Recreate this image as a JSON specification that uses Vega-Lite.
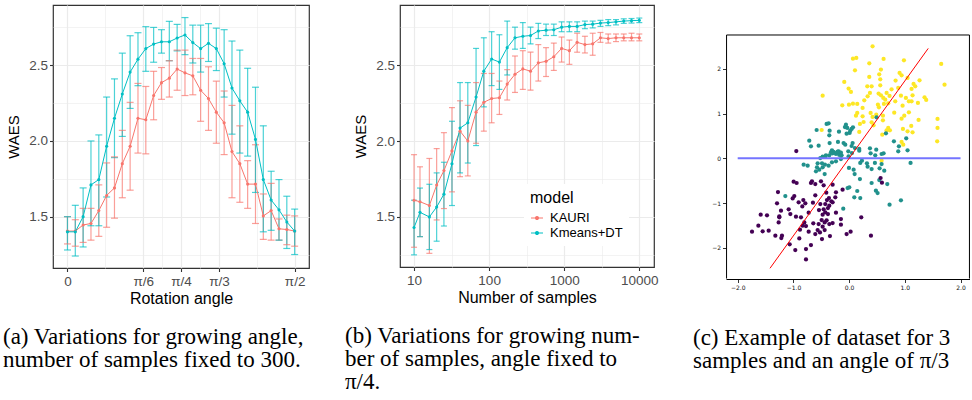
{
  "$schema": "https://vega.github.io/schema/vega-lite/v6.json",
  "background": "white",
  "padding": {"left": 2, "top": 4, "right": 0, "bottom": 0},
  "spacing": 34,
  "resolve": {"scale": {"color": "independent"}, "legend": {"color": "independent"}},
  "config": {
    "font": "Liberation Sans",
    "view": {"stroke": "#333333", "strokeWidth": 1.2},
    "axis": {
      "domain": false,
      "labelFont": "Liberation Sans", "labelFontSize": 13.5, "labelColor": "#4d4d4d", "labelPadding": 2,
      "labelOverlap": false,
      "titleFont": "Liberation Sans", "titleFontSize": 16, "titleFontWeight": "normal", "titleColor": "black",
      "tickColor": "#333333", "tickWidth": 1.1, "tickSize": 3.5,
      "gridColor": "#ebebeb"
    },
    "axisX": {"titlePadding": 2, "labelPadding": 3},
    "axisY": {"titlePadding": 7, "titleFontSize": 15}
  },
  "datasets": {
    "angle": [
      {"a":0,"m":"KAURI","w":1.405,"lo":1.32,"hi":1.5},
      {"a":0.0542,"m":"KAURI","w":1.405,"lo":1.305,"hi":1.48},
      {"a":0.1083,"m":"KAURI","w":1.445,"lo":1.33,"hi":1.555},
      {"a":0.1625,"m":"KAURI","w":1.455,"lo":1.345,"hi":1.555},
      {"a":0.2167,"m":"KAURI","w":1.54,"lo":1.37,"hi":1.71},
      {"a":0.2708,"m":"KAURI","w":1.64,"lo":1.43,"hi":1.855},
      {"a":0.325,"m":"KAURI","w":1.69,"lo":1.49,"hi":1.895},
      {"a":0.3792,"m":"KAURI","w":1.85,"lo":1.625,"hi":2.07},
      {"a":0.4333,"m":"KAURI","w":1.965,"lo":1.675,"hi":2.255},
      {"a":0.4875,"m":"KAURI","w":2.15,"lo":1.92,"hi":2.38},
      {"a":0.5417,"m":"KAURI","w":2.14,"lo":1.915,"hi":2.36},
      {"a":0.5958,"m":"KAURI","w":2.3,"lo":2.14,"hi":2.46},
      {"a":0.65,"m":"KAURI","w":2.385,"lo":2.275,"hi":2.485},
      {"a":0.7042,"m":"KAURI","w":2.415,"lo":2.29,"hi":2.53},
      {"a":0.7583,"m":"KAURI","w":2.475,"lo":2.335,"hi":2.6},
      {"a":0.8125,"m":"KAURI","w":2.45,"lo":2.3,"hi":2.6},
      {"a":0.8666,"m":"KAURI","w":2.43,"lo":2.305,"hi":2.545},
      {"a":0.9208,"m":"KAURI","w":2.335,"lo":2.13,"hi":2.545},
      {"a":0.975,"m":"KAURI","w":2.28,"lo":2.07,"hi":2.49},
      {"a":1.0292,"m":"KAURI","w":2.19,"lo":1.985,"hi":2.395},
      {"a":1.0833,"m":"KAURI","w":2.12,"lo":1.91,"hi":2.33},
      {"a":1.1375,"m":"KAURI","w":1.93,"lo":1.625,"hi":2.235},
      {"a":1.1917,"m":"KAURI","w":1.85,"lo":1.595,"hi":2.1},
      {"a":1.2458,"m":"KAURI","w":1.715,"lo":1.555,"hi":1.87},
      {"a":1.3,"m":"KAURI","w":1.715,"lo":1.455,"hi":1.975},
      {"a":1.3541,"m":"KAURI","w":1.505,"lo":1.35,"hi":1.65},
      {"a":1.4083,"m":"KAURI","w":1.54,"lo":1.345,"hi":1.72},
      {"a":1.4625,"m":"KAURI","w":1.42,"lo":1.345,"hi":1.485},
      {"a":1.5166,"m":"KAURI","w":1.415,"lo":1.315,"hi":1.51},
      {"a":1.5708,"m":"KAURI","w":1.405,"lo":1.305,"hi":1.505},
      {"a":0,"m":"Kmeans+DT","w":1.4,"lo":1.28,"hi":1.5},
      {"a":0.0542,"m":"Kmeans+DT","w":1.4,"lo":1.24,"hi":1.575},
      {"a":0.1083,"m":"Kmeans+DT","w":1.5,"lo":1.3,"hi":1.69},
      {"a":0.1625,"m":"Kmeans+DT","w":1.71,"lo":1.44,"hi":2.0},
      {"a":0.2167,"m":"Kmeans+DT","w":1.745,"lo":1.44,"hi":2.04},
      {"a":0.2708,"m":"Kmeans+DT","w":1.965,"lo":1.63,"hi":2.29},
      {"a":0.325,"m":"Kmeans+DT","w":2.15,"lo":1.89,"hi":2.41},
      {"a":0.3792,"m":"Kmeans+DT","w":2.31,"lo":2.03,"hi":2.58},
      {"a":0.4333,"m":"Kmeans+DT","w":2.455,"lo":2.215,"hi":2.695},
      {"a":0.4875,"m":"Kmeans+DT","w":2.54,"lo":2.365,"hi":2.715},
      {"a":0.5417,"m":"Kmeans+DT","w":2.61,"lo":2.46,"hi":2.755},
      {"a":0.5958,"m":"Kmeans+DT","w":2.64,"lo":2.52,"hi":2.75},
      {"a":0.65,"m":"Kmeans+DT","w":2.655,"lo":2.58,"hi":2.735},
      {"a":0.7042,"m":"Kmeans+DT","w":2.655,"lo":2.53,"hi":2.79},
      {"a":0.7583,"m":"Kmeans+DT","w":2.68,"lo":2.595,"hi":2.77},
      {"a":0.8125,"m":"Kmeans+DT","w":2.7,"lo":2.57,"hi":2.815},
      {"a":0.8666,"m":"Kmeans+DT","w":2.65,"lo":2.515,"hi":2.765},
      {"a":0.9208,"m":"Kmeans+DT","w":2.61,"lo":2.455,"hi":2.765},
      {"a":0.975,"m":"Kmeans+DT","w":2.645,"lo":2.525,"hi":2.775},
      {"a":1.0292,"m":"Kmeans+DT","w":2.61,"lo":2.465,"hi":2.745},
      {"a":1.0833,"m":"Kmeans+DT","w":2.51,"lo":2.29,"hi":2.735},
      {"a":1.1375,"m":"Kmeans+DT","w":2.35,"lo":2.045,"hi":2.66},
      {"a":1.1917,"m":"Kmeans+DT","w":2.265,"lo":1.92,"hi":2.6},
      {"a":1.2458,"m":"Kmeans+DT","w":2.19,"lo":1.9,"hi":2.48},
      {"a":1.3,"m":"Kmeans+DT","w":2.01,"lo":1.66,"hi":2.355},
      {"a":1.3541,"m":"Kmeans+DT","w":1.745,"lo":1.4,"hi":2.1},
      {"a":1.4083,"m":"Kmeans+DT","w":1.61,"lo":1.41,"hi":1.8},
      {"a":1.4625,"m":"Kmeans+DT","w":1.545,"lo":1.345,"hi":1.745},
      {"a":1.5166,"m":"Kmeans+DT","w":1.465,"lo":1.29,"hi":1.635},
      {"a":1.5708,"m":"Kmeans+DT","w":1.405,"lo":1.25,"hi":1.55}
    ],
    "samples": [
      {"n":10,"m":"KAURI","w":1.61,"lo":1.3,"hi":1.91},
      {"n":12,"m":"KAURI","w":1.6,"lo":1.37,"hi":1.83},
      {"n":16,"m":"KAURI","w":1.575,"lo":1.26,"hi":1.885},
      {"n":20,"m":"KAURI","w":1.71,"lo":1.48,"hi":1.95},
      {"n":25,"m":"KAURI","w":1.805,"lo":1.555,"hi":2.055},
      {"n":32,"m":"KAURI","w":1.935,"lo":1.665,"hi":2.22},
      {"n":41,"m":"KAURI","w":2.065,"lo":1.765,"hi":2.265},
      {"n":52,"m":"KAURI","w":2.0,"lo":1.77,"hi":2.235},
      {"n":67,"m":"KAURI","w":2.19,"lo":1.985,"hi":2.385},
      {"n":85,"m":"KAURI","w":2.255,"lo":2.065,"hi":2.445},
      {"n":108,"m":"KAURI","w":2.28,"lo":2.12,"hi":2.445},
      {"n":137,"m":"KAURI","w":2.285,"lo":2.175,"hi":2.395},
      {"n":174,"m":"KAURI","w":2.375,"lo":2.27,"hi":2.47},
      {"n":221,"m":"KAURI","w":2.44,"lo":2.32,"hi":2.56},
      {"n":281,"m":"KAURI","w":2.475,"lo":2.34,"hi":2.595},
      {"n":356,"m":"KAURI","w":2.46,"lo":2.335,"hi":2.585},
      {"n":452,"m":"KAURI","w":2.515,"lo":2.395,"hi":2.635},
      {"n":573,"m":"KAURI","w":2.525,"lo":2.425,"hi":2.615},
      {"n":727,"m":"KAURI","w":2.555,"lo":2.465,"hi":2.645},
      {"n":923,"m":"KAURI","w":2.61,"lo":2.52,"hi":2.685},
      {"n":1172,"m":"KAURI","w":2.595,"lo":2.505,"hi":2.665},
      {"n":1487,"m":"KAURI","w":2.65,"lo":2.585,"hi":2.71},
      {"n":1887,"m":"KAURI","w":2.635,"lo":2.58,"hi":2.69},
      {"n":2395,"m":"KAURI","w":2.64,"lo":2.565,"hi":2.71},
      {"n":3039,"m":"KAURI","w":2.68,"lo":2.65,"hi":2.715},
      {"n":3856,"m":"KAURI","w":2.675,"lo":2.645,"hi":2.705},
      {"n":4893,"m":"KAURI","w":2.68,"lo":2.655,"hi":2.705},
      {"n":6210,"m":"KAURI","w":2.68,"lo":2.66,"hi":2.705},
      {"n":7880,"m":"KAURI","w":2.68,"lo":2.66,"hi":2.71},
      {"n":10000,"m":"KAURI","w":2.68,"lo":2.66,"hi":2.705},
      {"n":10,"m":"Kmeans+DT","w":1.43,"lo":1.25,"hi":1.61},
      {"n":12,"m":"Kmeans+DT","w":1.53,"lo":1.37,"hi":1.69},
      {"n":16,"m":"Kmeans+DT","w":1.5,"lo":1.285,"hi":1.715},
      {"n":20,"m":"Kmeans+DT","w":1.565,"lo":1.34,"hi":1.79},
      {"n":25,"m":"Kmeans+DT","w":1.65,"lo":1.44,"hi":1.86},
      {"n":32,"m":"Kmeans+DT","w":1.85,"lo":1.575,"hi":2.13},
      {"n":41,"m":"Kmeans+DT","w":2.085,"lo":1.79,"hi":2.385},
      {"n":52,"m":"Kmeans+DT","w":2.12,"lo":1.855,"hi":2.385},
      {"n":67,"m":"Kmeans+DT","w":2.29,"lo":1.97,"hi":2.61},
      {"n":85,"m":"Kmeans+DT","w":2.46,"lo":2.225,"hi":2.68},
      {"n":108,"m":"Kmeans+DT","w":2.54,"lo":2.365,"hi":2.72},
      {"n":137,"m":"Kmeans+DT","w":2.52,"lo":2.34,"hi":2.7},
      {"n":174,"m":"Kmeans+DT","w":2.615,"lo":2.435,"hi":2.79},
      {"n":221,"m":"Kmeans+DT","w":2.68,"lo":2.605,"hi":2.75},
      {"n":281,"m":"Kmeans+DT","w":2.69,"lo":2.61,"hi":2.78},
      {"n":356,"m":"Kmeans+DT","w":2.695,"lo":2.64,"hi":2.75},
      {"n":452,"m":"Kmeans+DT","w":2.725,"lo":2.675,"hi":2.775},
      {"n":573,"m":"Kmeans+DT","w":2.73,"lo":2.695,"hi":2.77},
      {"n":727,"m":"Kmeans+DT","w":2.733,"lo":2.695,"hi":2.77},
      {"n":923,"m":"Kmeans+DT","w":2.75,"lo":2.72,"hi":2.785},
      {"n":1172,"m":"Kmeans+DT","w":2.755,"lo":2.72,"hi":2.785},
      {"n":1487,"m":"Kmeans+DT","w":2.755,"lo":2.72,"hi":2.785},
      {"n":1887,"m":"Kmeans+DT","w":2.767,"lo":2.74,"hi":2.79},
      {"n":2395,"m":"Kmeans+DT","w":2.77,"lo":2.745,"hi":2.79},
      {"n":3039,"m":"Kmeans+DT","w":2.777,"lo":2.755,"hi":2.795},
      {"n":3856,"m":"Kmeans+DT","w":2.78,"lo":2.76,"hi":2.8},
      {"n":4893,"m":"Kmeans+DT","w":2.785,"lo":2.765,"hi":2.8},
      {"n":6210,"m":"Kmeans+DT","w":2.79,"lo":2.775,"hi":2.805},
      {"n":7880,"m":"Kmeans+DT","w":2.793,"lo":2.777,"hi":2.807},
      {"n":10000,"m":"Kmeans+DT","w":2.795,"lo":2.78,"hi":2.81}
    ],
    "scatter": [
      {"x":0.421,"y":2.507,"c":2},{"x":0.069,"y":2.231,"c":2},{"x":0.129,"y":2.246,"c":2},{"x":0.619,"y":2.224,"c":2},{"x":0.984,"y":2.194,"c":2},{"x":1.653,"y":2.112,"c":2},{"x":0.362,"y":2.127,"c":2},{"x":0.105,"y":1.97,"c":2},{"x":0.571,"y":1.985,"c":2},{"x":0.541,"y":1.881,"c":2},{"x":0.906,"y":1.91,"c":2},{"x":0.942,"y":1.858,"c":2},{"x":0.362,"y":1.821,"c":2},{"x":1.049,"y":1.799,"c":2},{"x":-0.087,"y":1.709,"c":2},{"x":0.834,"y":1.739,"c":2},{"x":1.264,"y":1.746,"c":2},{"x":0.559,"y":1.769,"c":2},{"x":0.326,"y":1.612,"c":2},{"x":0.404,"y":1.612,"c":2},{"x":0.559,"y":1.634,"c":2},{"x":1.713,"y":1.649,"c":2},{"x":1.157,"y":1.664,"c":2},{"x":1.187,"y":1.612,"c":2},{"x":0.882,"y":1.575,"c":2},{"x":0.762,"y":1.545,"c":2},{"x":-0.009,"y":1.56,"c":2},{"x":0.033,"y":1.485,"c":2},{"x":1.121,"y":1.552,"c":2},{"x":-0.475,"y":1.403,"c":2},{"x":0.374,"y":1.463,"c":2},{"x":0.332,"y":1.388,"c":2},{"x":0.529,"y":1.448,"c":2},{"x":0.571,"y":1.41,"c":2},{"x":0.673,"y":1.463,"c":2},{"x":0.613,"y":1.351,"c":2},{"x":0.649,"y":1.313,"c":2},{"x":0.726,"y":1.396,"c":2},{"x":0.93,"y":1.403,"c":2},{"x":1.019,"y":1.351,"c":2},{"x":1.139,"y":1.41,"c":2},{"x":1.354,"y":1.366,"c":2},{"x":1.384,"y":1.306,"c":2},{"x":1.073,"y":1.276,"c":2},{"x":1.121,"y":1.276,"c":2},{"x":1.235,"y":1.239,"c":2},{"x":0.272,"y":1.299,"c":2},{"x":-0.123,"y":1.187,"c":2},{"x":-0.003,"y":1.201,"c":2},{"x":0.069,"y":1.224,"c":2},{"x":0.146,"y":1.216,"c":2},{"x":0.517,"y":1.201,"c":2},{"x":0.535,"y":1.142,"c":2},{"x":0.625,"y":1.216,"c":2},{"x":0.702,"y":1.231,"c":2},{"x":0.828,"y":1.276,"c":2},{"x":0.96,"y":1.179,"c":2},{"x":0.242,"y":1.127,"c":2},{"x":0.146,"y":1.015,"c":2},{"x":0.123,"y":0.955,"c":2},{"x":0.386,"y":1.015,"c":2},{"x":0.487,"y":0.978,"c":2},{"x":0.607,"y":0.955,"c":2},{"x":0.81,"y":1.022,"c":2},{"x":0.99,"y":0.955,"c":2},{"x":0.942,"y":0.888,"c":2},{"x":1.073,"y":1.03,"c":2},{"x":0.242,"y":0.94,"c":2},{"x":0.421,"y":0.925,"c":2},{"x":0.607,"y":0.851,"c":2},{"x":1.247,"y":0.858,"c":2},{"x":1.587,"y":0.881,"c":2},{"x":0.26,"y":0.813,"c":2},{"x":0.194,"y":0.769,"c":2},{"x":0.404,"y":0.806,"c":2},{"x":0.439,"y":0.739,"c":2},{"x":1.115,"y":0.724,"c":2},{"x":1.587,"y":0.679,"c":2},{"x":0.702,"y":0.679,"c":2},{"x":0.732,"y":0.627,"c":2},{"x":0.673,"y":0.627,"c":2},{"x":0.966,"y":0.657,"c":2},{"x":1.049,"y":0.604,"c":2},{"x":1.139,"y":0.582,"c":2},{"x":0.182,"y":0.59,"c":2},{"x":-0.493,"y":0.634,"c":2},{"x":0.595,"y":0.53,"c":2},{"x":1.581,"y":0.381,"c":2},{"x":0.942,"y":0.366,"c":2},{"x":0.972,"y":0.306,"c":2},{"x":0.583,"y":-0.052,"c":2},
      {"x":-0.404,"y":0.769,"c":1},{"x":-0.368,"y":0.784,"c":1},{"x":-0.583,"y":0.634,"c":1},{"x":-0.35,"y":0.619,"c":1},{"x":-0.182,"y":0.597,"c":1},{"x":-0.057,"y":0.754,"c":1},{"x":-0.075,"y":0.701,"c":1},{"x":-0.033,"y":0.679,"c":1},{"x":0.045,"y":0.657,"c":1},{"x":0.069,"y":0.694,"c":1},{"x":0.009,"y":0.567,"c":1},{"x":-0.045,"y":0.552,"c":1},{"x":0.021,"y":0.619,"c":1},{"x":-0.356,"y":0.515,"c":1},{"x":-0.715,"y":0.396,"c":1},{"x":-0.685,"y":0.269,"c":1},{"x":-0.547,"y":0.284,"c":1},{"x":-0.35,"y":0.343,"c":1},{"x":-0.2,"y":0.366,"c":1},{"x":-0.099,"y":0.343,"c":1},{"x":0.063,"y":0.343,"c":1},{"x":-0.069,"y":0.306,"c":1},{"x":0.045,"y":0.276,"c":1},{"x":0.105,"y":0.231,"c":1},{"x":0.182,"y":0.209,"c":1},{"x":0.374,"y":0.224,"c":1},{"x":0.487,"y":0.194,"c":1},{"x":0.386,"y":0.112,"c":1},{"x":0.619,"y":0.112,"c":1},{"x":0.493,"y":0.918,"c":1},{"x":0.661,"y":0.56,"c":1},{"x":0.804,"y":0.381,"c":1},{"x":0.894,"y":0.269,"c":1},{"x":0.882,"y":0.157,"c":1},{"x":1.049,"y":0.179,"c":1},{"x":1.025,"y":0.448,"c":1},{"x":-0.015,"y":0.157,"c":1},{"x":0.051,"y":0.119,"c":1},{"x":-0.308,"y":0.179,"c":1},{"x":-0.278,"y":0.142,"c":1},{"x":-0.236,"y":0.119,"c":1},{"x":-0.188,"y":0.157,"c":1},{"x":-0.17,"y":0.097,"c":1},{"x":-0.416,"y":0.067,"c":1},{"x":-0.475,"y":0.037,"c":1},{"x":-0.356,"y":0.067,"c":1},{"x":-0.135,"y":0.067,"c":1},{"x":-0.009,"y":0.045,"c":1},{"x":-0.428,"y":0.037,"c":1},{"x":-0.326,"y":0.134,"c":1},{"x":-0.296,"y":0.112,"c":1},{"x":-0.236,"y":0.097,"c":1},{"x":-0.176,"y":0.075,"c":1},{"x":-0.147,"y":0.127,"c":1},{"x":-0.206,"y":0.149,"c":1},{"x":-0.517,"y":0.007,"c":1},{"x":-0.565,"y":-0.112,"c":1},{"x":-0.487,"y":-0.112,"c":1},{"x":-0.434,"y":-0.142,"c":1},{"x":-0.368,"y":-0.164,"c":1},{"x":-0.308,"y":-0.09,"c":1},{"x":-0.236,"y":-0.067,"c":1},{"x":-0.147,"y":-0.015,"c":1},{"x":-0.816,"y":-0.142,"c":1},{"x":-0.744,"y":-0.164,"c":1},{"x":-0.577,"y":-0.201,"c":1},{"x":-0.535,"y":-0.254,"c":1},{"x":-0.475,"y":-0.201,"c":1},{"x":-0.595,"y":-0.291,"c":1},{"x":-0.439,"y":-0.351,"c":1},{"x":-0.003,"y":-0.216,"c":1},{"x":0.081,"y":-0.254,"c":1},{"x":0.2,"y":-0.104,"c":1},{"x":0.23,"y":-0.052,"c":1},{"x":0.32,"y":-0.112,"c":1},{"x":0.332,"y":-0.187,"c":1},{"x":0.469,"y":0.067,"c":1},{"x":0.583,"y":-0.127,"c":1},{"x":0.631,"y":-0.276,"c":1},{"x":0.463,"y":-0.104,"c":1},{"x":0.547,"y":-0.224,"c":1},{"x":0.404,"y":-0.239,"c":1},{"x":0.099,"y":-0.351,"c":1},{"x":0.194,"y":-0.463,"c":1},{"x":0.404,"y":-0.552,"c":1},{"x":0.541,"y":-0.485,"c":1},{"x":0.685,"y":-0.575,"c":1},{"x":-0.027,"y":-0.664,"c":1},{"x":0.003,"y":-0.649,"c":1},{"x":0.146,"y":-0.731,"c":1},{"x":0.093,"y":-0.873,"c":1},{"x":0.2,"y":-0.888,"c":1},{"x":0.481,"y":-0.724,"c":1},{"x":0.511,"y":-0.776,"c":1},{"x":0.726,"y":-1.037,"c":1},{"x":0.93,"y":-0.94,"c":1},{"x":1.103,"y":-0.104,"c":1},{"x":-1.145,"y":-0.843,"c":1},{"x":-0.105,"y":-1.127,"c":1},{"x":0.182,"y":0.172,"c":1},{"x":0.583,"y":0.097,"c":1},
      {"x":-0.948,"y":0.164,"c":0},{"x":-0.996,"y":-0.522,"c":0},{"x":-0.942,"y":-0.552,"c":0},{"x":-0.685,"y":-0.552,"c":0},{"x":-0.607,"y":-0.575,"c":0},{"x":-0.505,"y":-0.515,"c":0},{"x":-0.457,"y":-0.604,"c":0},{"x":-0.296,"y":-0.59,"c":0},{"x":-0.41,"y":-0.769,"c":0},{"x":-0.236,"y":-0.761,"c":0},{"x":-0.117,"y":-0.701,"c":0},{"x":-1.277,"y":-0.754,"c":0},{"x":-0.984,"y":-0.843,"c":0},{"x":-1.013,"y":-0.896,"c":0},{"x":-0.822,"y":-0.933,"c":0},{"x":-0.786,"y":-1.007,"c":0},{"x":-0.906,"y":-0.985,"c":0},{"x":-0.607,"y":-0.828,"c":0},{"x":-0.649,"y":-0.993,"c":0},{"x":-0.517,"y":-1.022,"c":0},{"x":-0.398,"y":-0.933,"c":0},{"x":-0.362,"y":-0.888,"c":0},{"x":-0.32,"y":-0.963,"c":0},{"x":-0.356,"y":-1.06,"c":0},{"x":-0.296,"y":-0.985,"c":0},{"x":-0.248,"y":-0.873,"c":0},{"x":-0.236,"y":-1.216,"c":0},{"x":-1.294,"y":-1.007,"c":0},{"x":-1.223,"y":-1.172,"c":0},{"x":-1.253,"y":-1.299,"c":0},{"x":-1.085,"y":-1.142,"c":0},{"x":-1.055,"y":-1.246,"c":0},{"x":-0.954,"y":-1.306,"c":0},{"x":-0.84,"y":-1.075,"c":0},{"x":-0.726,"y":-1.216,"c":0},{"x":-0.541,"y":-1.157,"c":0},{"x":-0.457,"y":-1.142,"c":0},{"x":-0.428,"y":-1.209,"c":0},{"x":-0.475,"y":-1.261,"c":0},{"x":-0.38,"y":-1.246,"c":0},{"x":-0.404,"y":-1.388,"c":0},{"x":-0.493,"y":-1.381,"c":0},{"x":-0.547,"y":-1.47,"c":0},{"x":-0.439,"y":-1.433,"c":0},{"x":-1.587,"y":-1.261,"c":0},{"x":-1.474,"y":-1.276,"c":0},{"x":-1.265,"y":-1.433,"c":0},{"x":-1.253,"y":-1.321,"c":0},{"x":-0.804,"y":-1.433,"c":0},{"x":-0.774,"y":-1.515,"c":0},{"x":-0.834,"y":-1.507,"c":0},{"x":-0.643,"y":-1.455,"c":0},{"x":-0.565,"y":-1.604,"c":0},{"x":-0.523,"y":-1.657,"c":0},{"x":-0.475,"y":-1.53,"c":0},{"x":-0.439,"y":-1.604,"c":0},{"x":-0.356,"y":-1.47,"c":0},{"x":-0.296,"y":-1.448,"c":0},{"x":-0.147,"y":-1.358,"c":0},{"x":-0.147,"y":-1.485,"c":0},{"x":0.218,"y":-1.321,"c":0},{"x":-1.629,"y":-1.507,"c":0},{"x":-1.743,"y":-1.642,"c":0},{"x":-1.552,"y":-1.634,"c":0},{"x":-1.444,"y":-1.619,"c":0},{"x":-1.324,"y":-1.731,"c":0},{"x":-1.205,"y":-1.731,"c":0},{"x":-1.217,"y":-1.784,"c":0},{"x":-1.067,"y":-1.925,"c":0},{"x":-0.882,"y":-1.597,"c":0},{"x":-0.726,"y":-1.642,"c":0},{"x":-0.607,"y":-1.694,"c":0},{"x":-0.487,"y":-1.806,"c":0},{"x":-0.344,"y":-1.739,"c":0},{"x":-0.045,"y":-1.694,"c":0},{"x":0.027,"y":-1.642,"c":0},{"x":0.392,"y":-1.731,"c":0},{"x":-0.966,"y":-2.052,"c":0},{"x":-0.774,"y":-2.03,"c":0},{"x":-0.685,"y":-1.94,"c":0},{"x":-0.774,"y":-2.261,"c":0},{"x":-0.894,"y":-1.791,"c":0},{"x":0.565,"y":-0.44,"c":0},{"x":0.589,"y":-0.545,"c":0},{"x":-0.667,"y":-0.515,"c":0},{"x":-0.864,"y":-1.321,"c":0},{"x":-0.428,"y":-1.022,"c":0},{"x":-0.38,"y":-1.112,"c":0}
    ]
  },
  "hconcat": [
    {
      "width": 256,
      "height": 263,
      "data": {"name": "angle"},
      "title": {
        "text": ["(a) Variations for growing angle,", "number of samples fixed to 300."],
        "orient": "bottom", "anchor": "start", "frame": "group", "align": "left", "baseline": "top",
        "dx": -50, "offset": 20,
        "font": "Liberation Serif", "fontSize": 23, "fontWeight": "normal", "color": "black", "lineHeight": 23
      },
      "encoding": {
        "x": {
          "field": "a", "type": "quantitative",
          "scale": {"domain": [-0.1, 1.67], "nice": false, "zero": false},
          "axis": {
            "title": "Rotation angle",
            "values": [0, 0.2618, 0.5236, 0.6545, 0.7854, 0.9163, 1.0472, 1.309, 1.5708],
            "labelExpr": "abs(datum.value)<0.01 ? '0' : abs(datum.value-0.5236)<0.01 ? 'π/6' : abs(datum.value-0.7854)<0.01 ? 'π/4' : abs(datum.value-1.0472)<0.01 ? 'π/3' : abs(datum.value-1.5708)<0.01 ? 'π/2' : ''",
            "tickOpacity": {"condition": {"test": "abs(datum.value-0.2618)<0.01 || abs(datum.value-0.6545)<0.01 || abs(datum.value-0.9163)<0.01 || abs(datum.value-1.309)<0.01", "value": 0}, "value": 1},
            "gridWidth": {"condition": {"test": "abs(datum.value-0.2618)<0.01 || abs(datum.value-0.6545)<0.01 || abs(datum.value-0.9163)<0.01 || abs(datum.value-1.309)<0.01", "value": 0.6}, "value": 1.2}
          }
        },
        "color": {
          "field": "m", "type": "nominal",
          "scale": {"domain": ["KAURI", "Kmeans+DT"], "range": ["#F8766D", "#00BFC4"]},
          "legend": null
        }
      },
      "layer": [
        {
          "mark": {"type": "rule", "strokeWidth": 1.2, "opacity": 0.7},
          "encoding": {
            "y": {
              "field": "lo", "type": "quantitative", "title": "WAES",
              "scale": {"domain": [1.161, 2.898], "nice": false, "zero": false},
              "axis": {
                "values": [1.25, 1.5, 1.75, 2, 2.25, 2.5, 2.75],
                "labelExpr": "datum.value*4%2==1 ? '' : format(datum.value, '.1f')",
                "tickOpacity": {"condition": {"test": "datum.value*4%2==1", "value": 0}, "value": 1},
                "gridWidth": {"condition": {"test": "datum.value*4%2==1", "value": 0.6}, "value": 1.2}
              }
            },
            "y2": {"field": "hi"}
          }
        },
        {
          "mark": {"type": "tick", "orient": "horizontal", "size": 7, "thickness": 1.2, "opacity": 0.7},
          "encoding": {"y": {"field": "lo", "type": "quantitative", "title": "WAES"}}
        },
        {
          "mark": {"type": "tick", "orient": "horizontal", "size": 7, "thickness": 1.2, "opacity": 0.7},
          "encoding": {"y": {"field": "hi", "type": "quantitative", "title": "WAES"}}
        },
        {
          "mark": {"type": "line", "strokeWidth": 1},
          "encoding": {"y": {"field": "w", "type": "quantitative", "title": "WAES"}}
        },
        {
          "mark": {"type": "point", "filled": true, "size": 10, "opacity": 1},
          "encoding": {"y": {"field": "w", "type": "quantitative", "title": "WAES"}}
        }
      ]
    },
    {
      "width": 254,
      "height": 262,
      "data": {"name": "samples"},
      "title": {
        "text": ["(b) Variations for growing num-", "ber of samples, angle fixed to", "π/4."],
        "orient": "bottom", "anchor": "start", "frame": "group", "align": "left", "baseline": "top",
        "dx": -55, "offset": 20,
        "font": "Liberation Serif", "fontSize": 23, "fontWeight": "normal", "color": "black", "lineHeight": 23
      },
      "encoding": {
        "x": {
          "field": "n", "type": "quantitative",
          "scale": {"type": "log", "domain": [6.5, 15700], "nice": false},
          "axis": {
            "title": "Number of samples",
            "values": [10, 31.62, 100, 316.2, 1000, 3162, 10000],
            "labelExpr": "(datum.value==31.62 || datum.value==316.2 || datum.value==3162) ? '' : format(datum.value, 'd')",
            "tickOpacity": {"condition": {"test": "datum.value==31.62 || datum.value==316.2 || datum.value==3162", "value": 0}, "value": 1},
            "gridWidth": {"condition": {"test": "datum.value==31.62 || datum.value==316.2 || datum.value==3162", "value": 0.6}, "value": 1.2}
          }
        },
        "color": {
          "field": "m", "type": "nominal",
          "scale": {"domain": ["KAURI", "Kmeans+DT"], "range": ["#F8766D", "#00BFC4"]},
          "legend": {
            "orient": "none", "legendX": 124, "legendY": 179,
            "fillColor": "white", "padding": 6,
            "title": "model", "titleFont": "Liberation Sans", "titleFontSize": 16, "titleFontWeight": "normal", "titleColor": "black", "titlePadding": 5,
            "labelFont": "Liberation Sans", "labelFontSize": 13, "labelColor": "black", "labelOffset": 6,
            "symbolType": "M-1,0H1M-0.25,0A0.25,0.25,0,1,1,0.25,0A0.25,0.25,0,1,1,-0.25,0Z",
            "symbolSize": 144, "symbolStrokeWidth": 1.1, "rowPadding": 1,
            "encode": {
              "symbols": {
                "update": {
                  "stroke": {"signal": "datum.value === 'KAURI' ? '#F8766D' : '#00BFC4'"},
                  "fill": {"signal": "datum.value === 'KAURI' ? '#F8766D' : '#00BFC4'"},
                  "opacity": {"value": 1}
                }
              }
            }
          }
        }
      },
      "layer": [
        {
          "mark": {"type": "rule", "strokeWidth": 1.2, "opacity": 0.7},
          "encoding": {
            "y": {
              "field": "lo", "type": "quantitative", "title": "WAES",
              "scale": {"domain": [1.17, 2.896], "nice": false, "zero": false},
              "axis": {
                "values": [1.25, 1.5, 1.75, 2, 2.25, 2.5, 2.75],
                "labelExpr": "datum.value*4%2==1 ? '' : format(datum.value, '.1f')",
                "tickOpacity": {"condition": {"test": "datum.value*4%2==1", "value": 0}, "value": 1},
                "gridWidth": {"condition": {"test": "datum.value*4%2==1", "value": 0.6}, "value": 1.2}
              }
            },
            "y2": {"field": "hi"}
          }
        },
        {
          "mark": {"type": "tick", "orient": "horizontal", "size": 6, "thickness": 1.2, "opacity": 0.7},
          "encoding": {"y": {"field": "lo", "type": "quantitative", "title": "WAES"}}
        },
        {
          "mark": {"type": "tick", "orient": "horizontal", "size": 6, "thickness": 1.2, "opacity": 0.7},
          "encoding": {"y": {"field": "hi", "type": "quantitative", "title": "WAES"}}
        },
        {
          "mark": {"type": "line", "strokeWidth": 1},
          "encoding": {"y": {"field": "w", "type": "quantitative", "title": "WAES"}}
        },
        {
          "mark": {"type": "point", "filled": true, "size": 10, "opacity": 1},
          "encoding": {"y": {"field": "w", "type": "quantitative", "title": "WAES"}}
        }
      ]
    },
    {
      "width": 244,
      "height": 274,
      "view": {"stroke": null},
      "title": {
        "text": ["(c) Example of dataset for 3", "samples and an angle of π/3"],
        "orient": "bottom", "anchor": "start", "frame": "group", "align": "left", "baseline": "top",
        "dx": -33, "offset": 36,
        "font": "Liberation Serif", "fontSize": 23, "fontWeight": "normal", "color": "black", "lineHeight": 23
      },
      "layer": [
        {
          "data": {"name": "scatter"},
          "mark": {"type": "circle", "size": 18, "opacity": 1},
          "encoding": {
            "x": {
              "field": "x", "type": "quantitative", "title": null,
              "scale": {"domain": [-2.21, 2.17], "nice": false, "zero": false},
              "axis": {
                "values": [-2, -1.5, -1, -0.5, 0, 0.5, 1, 1.5, 2], "format": ".1f",
                "grid": false, "domain": true, "domainColor": "#000000", "domainWidth": 1,
                "labelFont": "DejaVu Sans", "labelFontSize": 6, "labelColor": "#111111", "labelPadding": 2,
                "tickColor": "black", "tickWidth": 0.8, "tickSize": 3.5
              }
            },
            "y": {
              "field": "y", "type": "quantitative", "title": null,
              "scale": {"domain": [-2.7, 3.431], "nice": false, "zero": false},
              "axis": {
                "values": [-2, -1, 0, 1, 2], "format": "d",
                "grid": false, "domain": false,
                "labelFont": "DejaVu Sans", "labelFontSize": 6, "labelColor": "#111111", "labelPadding": 2,
                "tickColor": "black", "tickWidth": 0.8, "tickSize": 3.5
              }
            },
            "color": {
              "field": "c", "type": "nominal",
              "scale": {"domain": [0, 1, 2], "range": ["#440154", "#21918c", "#fde725"]},
              "legend": null
            }
          }
        },
        {
          "data": {"values": [{"hx": -2, "hy": 0, "hx2": 2, "hy2": 0}]},
          "mark": {"type": "rule", "color": "#7474ff", "strokeWidth": 2},
          "encoding": {
            "x": {"field": "hx", "type": "quantitative", "title": null},
            "x2": {"field": "hx2"},
            "y": {"field": "hy", "type": "quantitative", "title": null},
            "y2": {"field": "hy2"}
          }
        },
        {
          "data": {"values": [{"sx": -1.42, "sy": -2.46, "sx2": 1.42, "sy2": 2.46}]},
          "mark": {"type": "rule", "color": "#ff0000", "strokeWidth": 1},
          "encoding": {
            "x": {"field": "sx", "type": "quantitative", "title": null},
            "x2": {"field": "sx2"},
            "y": {"field": "sy", "type": "quantitative", "title": null},
            "y2": {"field": "sy2"}
          }
        },
        {
          "data": {"values": [{"tx": -2.2, "ty": 2.76, "tx2": 2.16, "ty2": 2.76}]},
          "mark": {"type": "rule", "color": "#000000", "strokeWidth": 1},
          "encoding": {
            "x": {"field": "tx", "type": "quantitative", "title": null},
            "x2": {"field": "tx2"},
            "y": {"field": "ty", "type": "quantitative", "title": null},
            "y2": {"field": "ty2"}
          }
        },
        {
          "data": {"values": [{"lx": -2.2, "ly": -2.69, "lx2": -2.2, "ly2": 2.76}]},
          "mark": {"type": "rule", "color": "#000000", "strokeWidth": 1},
          "encoding": {
            "x": {"field": "lx", "type": "quantitative", "title": null},
            "x2": {"field": "lx2"},
            "y": {"field": "ly", "type": "quantitative", "title": null},
            "y2": {"field": "ly2"}
          }
        },
        {
          "data": {"values": [{"rx": 2.16, "ry": -2.69, "rx2": 2.16, "ry2": 2.76}]},
          "mark": {"type": "rule", "color": "#000000", "strokeWidth": 1},
          "encoding": {
            "x": {"field": "rx", "type": "quantitative", "title": null},
            "x2": {"field": "rx2"},
            "y": {"field": "ry", "type": "quantitative", "title": null},
            "y2": {"field": "ry2"}
          }
        }
      ]
    }
  ]
}
